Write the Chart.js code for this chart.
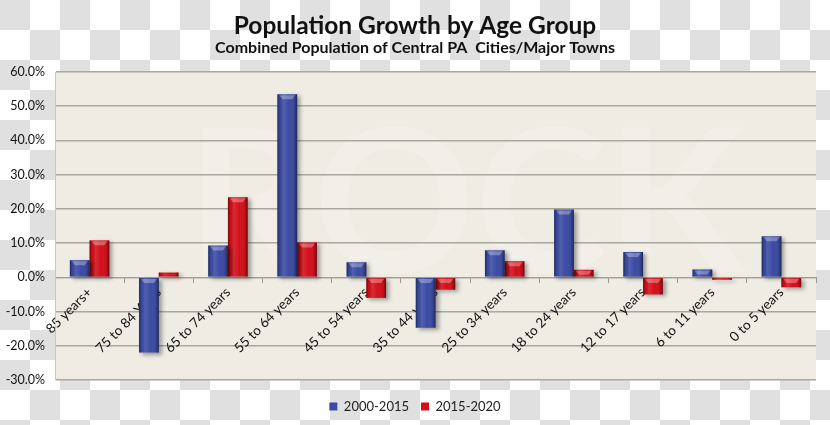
<!DOCTYPE html>
<html>
<head>
<meta charset="utf-8">
<script src="https://cdn.jsdelivr.net/npm/chart.js@4.4.1/dist/chart.umd.min.js"></script>
<style>
  html, body { margin: 0; padding: 0; }
  body {
    width: 830px; height: 425px; overflow: hidden;
    background-color: #fff;
    background-image:
      linear-gradient(45deg, #e0e0e0 25%, transparent 25%, transparent 75%, #e0e0e0 75%),
      linear-gradient(45deg, #e0e0e0 25%, transparent 25%, transparent 75%, #e0e0e0 75%);
    background-size: 60px 60px;
    background-position: 30px 0, 0 30px;
  }
  canvas { display: block; }
</style>
</head>
<body>
<canvas id="grafico" width="830" height="425"></canvas>
<script>
// datos
const grupos = ['85 years+', '75 to 84 Years', '65 to 74 years', '55 to 64 years', '45 to 54 years',
  '35 to 44 years', '25 to 34 years', '18 to 24 years', '12 to 17 years', '6 to 11 years', '0 to 5 years'];
const serie2000 = [5.0, -22.0, 9.3, 53.5, 4.4, -14.7, 7.9, 19.8, 7.4, 2.3, 12.0];
const serie2015 = [10.8, 1.4, 23.4, 10.2, -6.0, -3.6, 4.7, 2.2, -5.0, -0.7, -2.9];
const ticksY = [-30, -20, -10, 0, 10, 20, 30, 40, 50, 60];

const fuente = 'Lato, "Open Sans", sans-serif';

// fondo del area y marca de agua
const fondoPlot = {
  id: 'fondoPlot',
  beforeDraw(chart) {
    const { ctx, chartArea: a } = chart;
    ctx.save();
    ctx.fillStyle = '#eeece3';
    ctx.fillRect(a.left, a.top, a.right - a.left, a.bottom - a.top);
    ctx.fillStyle = 'rgba(255,255,255,0.2)';
    ctx.font = 'bold 200px ' + fuente;
    ctx.textAlign = 'center';
    ctx.textBaseline = 'middle';
    ctx.fillText('ROCK', (a.left + a.right) / 2 + 30, a.top + 135);
    ctx.restore();
  }
};

// sombra y efecto 3D de las barras
const barras3d = {
  id: 'barras3d',
  beforeDatasetsDraw(chart) {
    const ctx = chart.ctx;
    ctx.save();
    ctx.shadowColor = 'rgba(0,0,0,0.35)';
    ctx.shadowOffsetX = 3;
    ctx.shadowOffsetY = 2;
    ctx.shadowBlur = 4;
  },
  afterDatasetsDraw(chart) {
    const ctx = chart.ctx;
    ctx.restore();
    ctx.save();
    chart.data.datasets.forEach((ds, i) => {
      chart.getDatasetMeta(i).data.forEach(bar => {
        const p = bar.getProps(['x', 'y', 'base', 'width'], true);
        const l = p.x - p.width / 2, r = p.x + p.width / 2;
        const t = Math.min(p.y, p.base), b = Math.max(p.y, p.base);
        const g = ctx.createLinearGradient(l, 0, r, 0);
        g.addColorStop(0, 'rgba(0,0,0,0.45)');
        g.addColorStop(0.12, 'rgba(0,0,0,0.05)');
        g.addColorStop(0.3, 'rgba(255,255,255,0.12)');
        g.addColorStop(0.6, 'rgba(255,255,255,0)');
        g.addColorStop(0.88, 'rgba(0,0,0,0.12)');
        g.addColorStop(1, 'rgba(0,0,0,0.5)');
        ctx.fillStyle = g;
        ctx.fillRect(l, t, r - l, b - t);
        if (b - t > 5) {
          ctx.fillStyle = 'rgba(255,255,255,0.3)';
          ctx.beginPath();
          ctx.moveTo(l + 2, t + 1);
          ctx.lineTo(r - 2, t + 1);
          ctx.lineTo(r - 5, t + 5);
          ctx.lineTo(l + 5, t + 5);
          ctx.closePath();
          ctx.fill();
        }
      });
    });
    ctx.restore();
  }
};

const ctx = document.getElementById('grafico').getContext('2d');
new Chart(ctx, {
  type: 'bar',
  data: {
    labels: grupos,
    datasets: [
      { label: '2000-2015', data: serie2000, backgroundColor: '#3b4aa3' },
      { label: '2015-2020', data: serie2015, backgroundColor: '#d20f1a' }
    ]
  },
  options: {
    responsive: false,
    animation: false,
    devicePixelRatio: 1,
    layout: { padding: { left: 0, right: 0, top: 0, bottom: 2 } },
    datasets: { bar: { categoryPercentage: 0.57, barPercentage: 1 } },
    plugins: {
      title: {
        display: true,
        text: 'Population Growth by Age Group',
        color: '#111',
        font: { family: fuente, size: 24.5, weight: 'bold', lineHeight: 1 },
        padding: { top: 14, bottom: 0 }
      },
      subtitle: {
        display: true,
        text: 'Combined Population of Central PA  Cities/Major Towns',
        color: '#111',
        font: { family: fuente, size: 16, weight: 'bold' },
        padding: { top: 0, bottom: 14.3 }
      },
      legend: {
        position: 'bottom',
        title: { display: true, text: '', font: { size: 2 }, padding: 2.8 },
        labels: {
          color: '#222',
          boxWidth: 8,
          boxHeight: 8,
          padding: 12,
          font: { family: fuente, size: 13 }
        }
      },
      tooltip: { enabled: false }
    },
    scales: {
      x: {
        position: { y: 0 },
        grid: { offset: true, drawOnChartArea: false, drawTicks: true, tickLength: 5, color: '#999' },
        border: { display: true, color: '#a0a09a', width: 1 },
        ticks: {
          color: '#111',
          autoSkip: false,
          maxRotation: 45,
          minRotation: 45,
          padding: 2,
          font: { family: fuente, size: 13.5 }
        }
      },
      y: {
        min: -30,
        max: 60,
        afterBuildTicks(axis) { axis.ticks = ticksY.map(v => ({ value: v })); },
        afterFit(axis) { axis.width = 55; },
        grid: { color: '#a8a8a0', lineWidth: 1.5, drawTicks: false },
        border: { display: true, color: '#c8c8c0' },
        ticks: {
          color: '#111',
          padding: 10,
          font: { family: fuente, size: 12.5 },
          callback: v => v.toFixed(1) + '%'
        }
      },
      margenDer: {
        position: 'right',
        min: -30,
        max: 60,
        grid: { display: false },
        border: { display: false },
        ticks: { display: false },
        afterFit(axis) { axis.width = 14; }
      }
    }
  },
  plugins: [fondoPlot, barras3d]
});
</script>
</body>
</html>
